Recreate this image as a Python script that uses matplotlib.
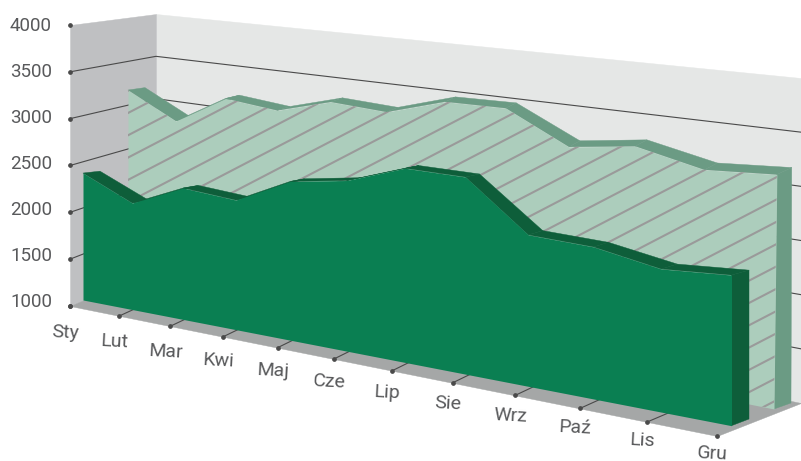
"""Polish monthly 3D area chart, two series standing on a perspective floor."""
import numpy as np
import matplotlib
matplotlib.use("Agg")
import matplotlib.pyplot as plt
from matplotlib import transforms as mtransforms
from matplotlib.collections import PolyCollection

plt.rcParams["font.family"] = ["Roboto", "DejaVu Sans"]

# Data
MONTHS = ["Sty", "Lut", "Mar", "Kwi", "Maj", "Cze", "Lip", "Sie", "Wrz", "Paź", "Lis", "Gru"]
Y_TICKS = [1000, 1500, 2000, 2500, 3000, 3500, 4000]
SERIES_FRONT = [2375, 2135, 2377, 2335, 2608, 2698, 2899, 2893, 2428, 2407, 2299, 2341]
SERIES_BACK = [3170, 2890, 3210, 3150, 3310, 3275, 3450, 3455, 3150, 3235, 3095, 3135]

# Colours
WALL_BACK = "#E5E7E6"
WALL_LEFT = "#BFC0C2"
FLOOR = "#A5A7A7"
GRID = "#4A4A4A"
TEXT = "#58595B"
FRONT_FACE = "#0A7F52"
FRONT_SIDE = "#0E5E3A"
BACK_FACE = "#ACCDBC"
BACK_SIDE = "#6B9B84"
HATCH = "#9A9A9A"

Y_MIN, Y_MAX = Y_TICKS[0], Y_TICKS[-1]
LAST = len(MONTHS) - 1


class Plane(mtransforms.Transform):
    """Maps (month index, value) to picture pixels for one vertical plane of the box.

    corners: bottom left, bottom right, top left, top right, in pixels.
    """
    input_dims = 2
    output_dims = 2
    is_separable = False
    has_inverse = False

    def __init__(self, corners):
        super().__init__()
        src = [(0, 0), (1, 0), (0, 1), (1, 1)]
        a, b = [], []
        for (u, v), (x, y) in zip(src, corners):
            a.append([u, v, 1, 0, 0, 0, -u * x, -v * x])
            a.append([0, 0, 0, u, v, 1, -u * y, -v * y])
            b += [x, y]
        self.h = np.append(np.linalg.solve(np.array(a, float), np.array(b, float)), 1).reshape(3, 3)

    def transform_non_affine(self, values):
        values = np.asarray(values, float)
        u = values[:, 0] / LAST
        v = (values[:, 1] - Y_MIN) / (Y_MAX - Y_MIN)
        p = self.h @ np.vstack([u, v, np.ones_like(u)])
        return (p[:2] / p[2]).T


# Perspective planes, from the front edge of the floor to the back wall
box_front = Plane([(70, 306), (717, 436), (70, 25), (717, 96)])
box_back = Plane([(156, 268), (801, 403), (156, 14), (801, 78)])
front_face = Plane([(83, 300), (731.5, 425.7), (83, 23), (731.5, 88.7)])
front_rear = Plane([(100, 294), (749, 419), (100, 26), (749, 86)])
back_face = Plane([(128, 280), (774, 409), (128, 17), (778, 79)])
back_rear = Plane([(145, 272), (791, 403), (145, 17), (792, 72)])

fig = plt.figure(figsize=(8.01, 4.61), dpi=100)
ax = fig.add_axes([0, 0, 1, 1])
ax.set_xlim(0, 801)
ax.set_ylim(461, 0)
ax.axis("off")

x = np.arange(len(MONTHS))


def pts(plane, xs, ys):
    return plane.transform(np.column_stack([xs, ys]))


def add_polys(polys, color, zorder):
    ax.add_collection(PolyCollection(polys, facecolors=color, edgecolors=color,
                                     linewidths=0.3, zorder=zorder))


# Walls and floor
left_wall = np.vstack([pts(box_front, [0, 0], [Y_MIN, Y_MAX]), pts(box_back, [0, 0], [Y_MAX, Y_MIN])])
back_wall = pts(box_back, [0, LAST, LAST, 0], [Y_MIN, Y_MIN, Y_MAX, Y_MAX])
floor = np.vstack([pts(box_front, [0, LAST], [Y_MIN, Y_MIN]), pts(box_back, [LAST, 0], [Y_MIN, Y_MIN])])
add_polys([back_wall], WALL_BACK, 1)
add_polys([left_wall], WALL_LEFT, 1)
add_polys([floor], FLOOR, 1)

# Grid lines run along the left wall and then the back wall
for tick in Y_TICKS[1:-1]:
    line = np.vstack([pts(box_front, [0], [tick]), pts(box_back, [0, LAST], [tick, tick])])
    ax.plot(line[:, 0], line[:, 1], color=GRID, lw=0.8, zorder=2)

# Month ticks run over the floor
for i in x[1:-1]:
    line = np.vstack([pts(box_front, [i], [Y_MIN]), pts(box_back, [i], [Y_MIN])])
    ax.plot(line[:, 0], line[:, 1], color=GRID, lw=0.8, zorder=2)
ax.plot(x, [Y_MIN] * len(x), "o", ms=2.4, color=GRID, zorder=2,
        transform=box_front + ax.transData, clip_on=False)
ax.plot([0] * len(Y_TICKS), Y_TICKS, "o", ms=2.4, color=GRID, zorder=2,
        transform=box_front + ax.transData, clip_on=False)


def draw_series(values, face, rear, face_color, side_color, zorder):
    """Top strip and right end of the solid, then its front face."""
    f = pts(face, x, values)
    r = pts(rear, x, values)
    strips = [[f[i], f[i + 1], r[i + 1], r[i]] for i in range(LAST)]
    strips.append([f[-1], pts(face, [LAST], [Y_MIN])[0], pts(rear, [LAST], [Y_MIN])[0], r[-1]])
    add_polys(strips, side_color, zorder)
    return ax.fill_between(x, Y_MIN, values, color=face_color, lw=0, zorder=zorder + 0.1,
                           transform=face + ax.transData)


draw_series(SERIES_BACK, back_face, back_rear, BACK_FACE, BACK_SIDE, 3)

# Diagonal hatching of the back series, cut to its front face
outline = np.vstack([pts(back_face, x, SERIES_BACK), pts(back_face, [LAST, 0], [Y_MIN, Y_MIN])])
clip = plt.Polygon(outline, closed=True, transform=ax.transData, fc="none", ec="none")
ax.add_patch(clip)
for k in range(-2, 30):
    y0 = 113 + 22.3 * k
    hatch, = ax.plot([128, 780], [y0, y0 - 0.52 * 652], color=HATCH, lw=1.5, zorder=3.2)
    hatch.set_clip_path(clip)

draw_series(SERIES_FRONT, front_face, front_rear, FRONT_FACE, FRONT_SIDE, 4)

# Labels
for tick in Y_TICKS:
    frac = (tick - Y_MIN) / (Y_MAX - Y_MIN)
    ax.annotate(str(tick), xy=(0, tick), xycoords=box_front + ax.transData,
                xytext=(-13, 3.6 * (1 - frac) - 0.7), textcoords="offset points",
                ha="right", va="center", fontsize=13.5, color=TEXT, zorder=6)
for i, label in enumerate(MONTHS):
    # labels sit a little closer to the floor edge towards the right
    drop = 27 - 9.5 * i / LAST
    ax.annotate(label, xy=(i, Y_MIN), xycoords=box_front + ax.transData,
                xytext=(-3.5, -drop * 0.72), textcoords="offset points",
                ha="center", va="center", fontsize=14, color=TEXT, rotation=-3,
                annotation_clip=False, zorder=6)

fig.savefig("out.png", dpi=100)
